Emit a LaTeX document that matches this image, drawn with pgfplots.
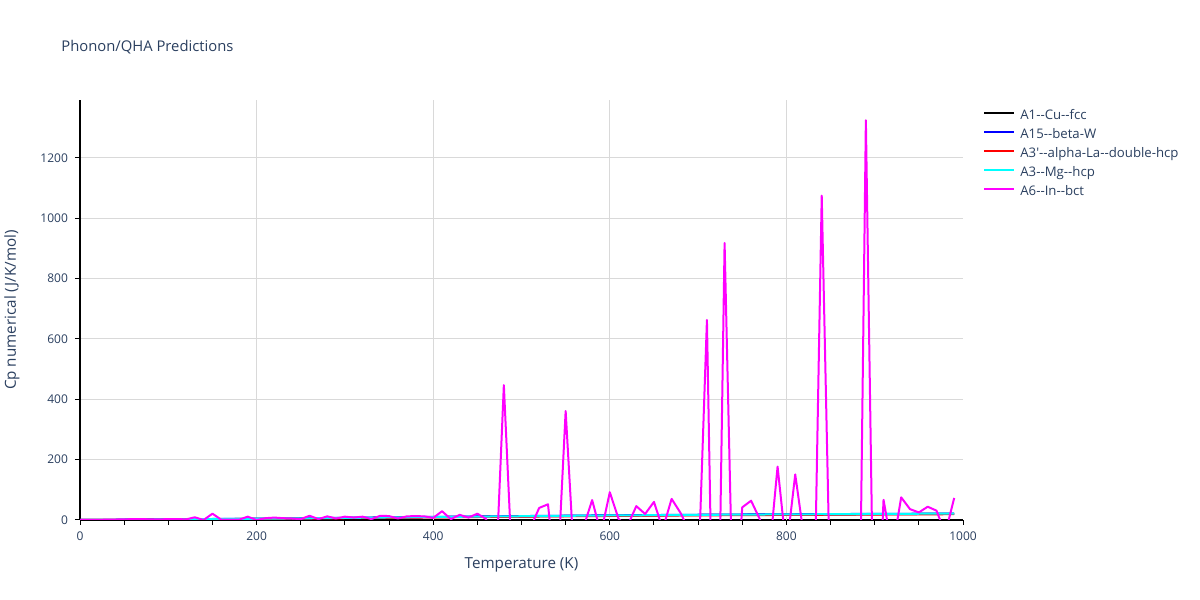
\documentclass[border=0pt]{standalone}
\usepackage{pgfplots}
\pgfplotsset{compat=1.18}
\usepackage{fontspec}
\setmainfont{Open Sans}
\definecolor{plotlytext}{HTML}{2A3F5F}
\definecolor{gridc}{HTML}{D9D9D9}
\definecolor{pcyan}{HTML}{00FFFF}
\definecolor{pmag}{HTML}{FF00FF}
\definecolor{pblue}{HTML}{0000FF}
\definecolor{pred}{HTML}{FF0000}

\pgfplotstableread{
T v
0 0
50 0.8
100 1.8
150 2.8
200 3.8
250 5
300 6.5
350 8
400 9.5
450 10.8
500 12
550 13.3
600 14.5
650 15.5
700 16.5
750 17.3
800 18
850 18.7
900 19.3
950 19.9
990 20.3
}\tblack

\pgfplotstableread{
T v
0 0
50 1
100 2.2
150 3.3
200 4.5
250 5.8
300 7.3
350 8.8
400 10.3
450 11.7
500 13
550 14.2
600 15.4
650 16.4
700 17.4
750 18.2
800 18.9
850 19.6
900 20.2
950 20.8
990 21.3
}\tblue

\pgfplotstableread{
T v
0 0
50 0.7
100 1.6
150 2.5
200 3.4
250 4.5
300 5.8
350 7.2
400 8.6
450 9.9
500 11.1
550 12.3
600 13.4
650 14.4
700 15.3
750 16.1
800 16.8
850 17.5
900 18.1
950 18.7
990 19.2
}\tred

\pgfplotstableread{
T v
0 0
50 0.9
100 2
150 3
200 4.2
250 5.4
300 6.9
350 8.4
400 9.9
450 11.2
500 12.5
550 13.8
600 15
650 16
700 17
750 17.8
800 18.6
850 19.3
900 20
950 20.7
990 21.3
}\tcyan

\pgfplotstableread{
T v
0 0
10 0
20 0.5
30 1
40 1.5
50 2
60 3
70 3
80 2
90 2
100 3
110 3
120 2
130 9
140 0
150 21
160 1
170 1
180 1
190 11
200 0
210 6
220 8
230 6
240 5
250 3
260 14
270 3
280 12
290 5
300 11
310 8
320 11
330 3
340 14
350 13
360 5
370 12
380 13
390 12
400 7
410 29
420 3
430 17
440 8
450 21
460 3
470 -250
480 447
490 -192
500 -100
510 -27
520 40
530 52
540 -230
550 361
560 -155
570 -26
580 66
590 -44
600 92
610 3
620 -20
630 46
640 20
650 60
660 -30
670 70
680 24
690 -36
700 -198
710 663
720 -1000
730 918
740 -375
750 42
760 64
770 2
780 -134
790 177
800 -100
810 151
820 -59
830 -553
840 1075
850 -303
860 -200
870 -150
880 -1084
890 1325
900 -623
910 67
920 -100
930 75
940 36
950 25
960 44
970 31
980 -45
990 73
}\tmag

\begin{document}
\begin{tikzpicture}[x=1pt,y=1pt]
\path[use as bounding box] (0,0) rectangle (600,300);
\begin{axis}[
  at={(40pt,40pt)}, anchor=south west,
  scale only axis, width=441.5pt, height=210pt,
  xmin=0, xmax=1000, ymin=0, ymax=1392,
  axis x line*=bottom, axis y line*=left,
  axis line style={black, line width=0.6pt},
  xtick={0,200,...,1000},
  minor xtick={50,100,150,250,300,350,450,500,550,650,700,750,850,900,950},
  ytick={0,200,...,1200},
  tick align=outside, major tick length=2.5pt, minor tick length=2.5pt,
  every tick/.style={black, line width=0.5pt},
  ymajorgrids=true, xmajorgrids=false,
  extra x ticks={200,400,600,800}, extra x tick labels={},
  extra x tick style={xmajorgrids=true},
  major grid style={gridc, line width=0.5pt},
  ticklabel style={font=\fontsize{6}{7}\selectfont, text=plotlytext},
  /pgf/number format/assume math mode=true,
  /pgf/number format/1000 sep={},
  xlabel={Temperature (K)}, ylabel={Cp numerical (J/K/mol)},
  label style={font=\fontsize{7.6}{9}\selectfont, text=plotlytext},
  xlabel style={at={(axis description cs:0.5,-0.1071)}, anchor=center},
  ylabel style={at={(axis description cs:-0.077,0.5)}, anchor=center},
  title={Phonon/QHA Predictions},
  title style={at={(axis description cs:-0.0215,1.098)}, anchor=west, yshift=0pt, inner sep=0pt, font=\fontsize{7.4}{9}\selectfont, text=plotlytext},
  legend style={at={(axis description cs:1.0158,0.9858)}, anchor=north west, draw=none, fill=none,
    font=\fontsize{6.6}{7.5}\selectfont, text=plotlytext, row sep=3.5pt,
    nodes={inner sep=0pt, text height=4.5pt, text depth=1.5pt},
    /tikz/every odd column/.style={column sep=2.5pt}},
  legend cell align=left,
  legend image code/.code={\draw[#1, line width=1pt] (0pt,1.5pt) -- (15pt,1.5pt);},
  every axis plot/.append style={line width=1pt, line join=round},
]
\addplot[black, no markers] table[x=T,y=v] {\tblack};
\addlegendentry{A1-{}-Cu-{}-fcc}
\addplot[pblue, no markers] table[x=T,y=v] {\tblue};
\addlegendentry{A15-{}-beta-W}
\addplot[pred, no markers] table[x=T,y=v] {\tred};
\addlegendentry{A3\textquotesingle-{}-alpha-La-{}-double-hcp}
\addplot[pcyan, no markers] table[x=T,y=v] {\tcyan};
\addlegendentry{A3-{}-Mg-{}-hcp}
\addplot[pmag, no markers] table[x=T,y=v] {\tmag};
\addlegendentry{A6-{}-In-{}-bct}
\end{axis}
\end{tikzpicture}
\end{document}
